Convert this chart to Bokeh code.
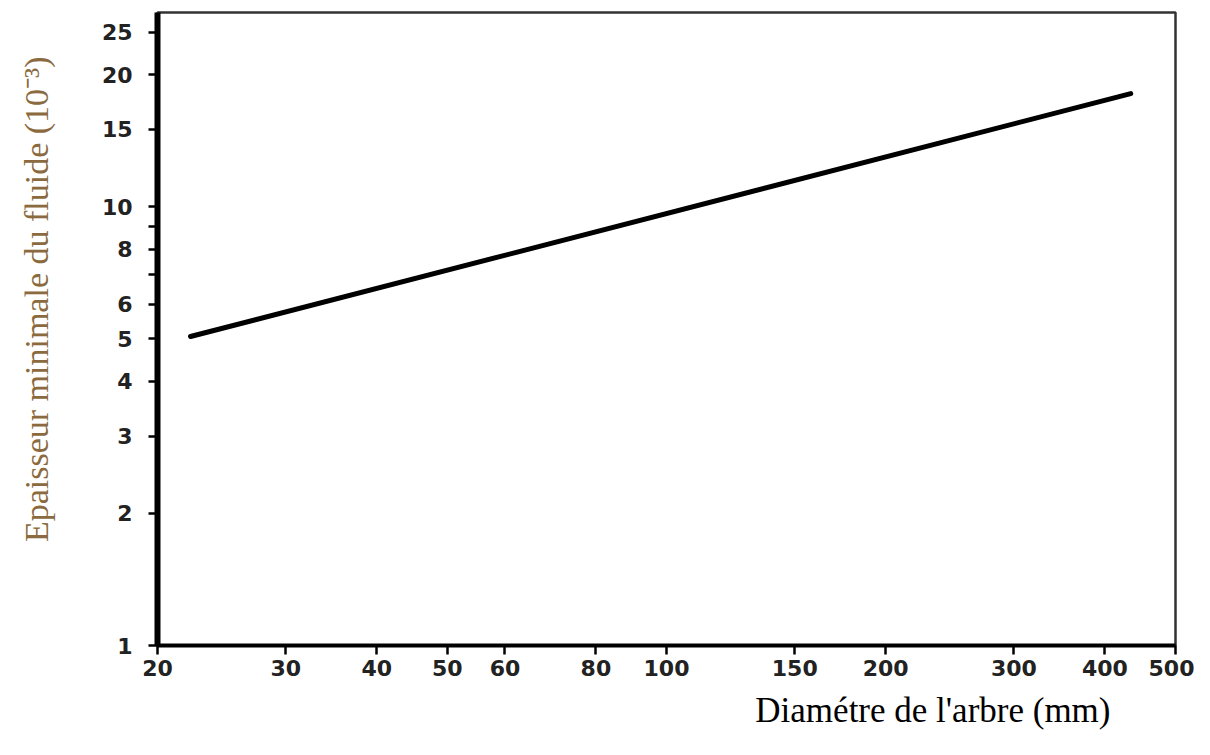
from bokeh.plotting import figure
from bokeh.models import FixedTicker, CustomJSTickFormatter, Title
from bokeh.embed import file_html
from bokeh.resources import INLINE

# data
diameter_mm = [22.2, 434.0]
thickness = [5.06, 18.1]

x_ticks = [20, 30, 40, 50, 60, 80, 100, 150, 200, 300, 400, 500]
y_ticks = [1, 2, 3, 4, 5, 6, 7, 8, 9, 10, 15, 20, 25]
y_labelled = [1, 2, 3, 4, 5, 6, 8, 10, 15, 20, 25]

x_title = "Diamétre de l'arbre (mm)"
y_title = "Epaisseur minimale du fluide (10\u207b\u00b3)"

p = figure(width=1194, height=739, x_axis_type="log", y_axis_type="log",
           x_range=(20, 500), y_range=(1, 27.7),
           output_backend="svg", toolbar_location=None,
           min_border_left=157, min_border_right=19,
           min_border_top=12, min_border_bottom=94)

p.grid.visible = False
p.outline_line_color = "#333333"
p.outline_line_width = 2.5
p.background_fill_color = "white"
p.border_fill_color = "white"

p.line(diameter_mm, thickness, line_color="black", line_width=5, line_cap="round")

p.xaxis.ticker = FixedTicker(ticks=x_ticks, minor_ticks=[])
p.yaxis.ticker = FixedTicker(ticks=y_ticks, minor_ticks=[])
p.yaxis.formatter = CustomJSTickFormatter(
    args=dict(show=y_labelled),
    code="return show.includes(tick) ? String(tick) : '';")
p.xaxis.formatter = CustomJSTickFormatter(code="return String(tick);")

for ax in (p.xaxis, p.yaxis):
    ax.axis_line_color = "black"
    ax.major_tick_line_color = "black"
    ax.major_tick_line_width = 2.5
    ax.major_tick_out = 9
    ax.major_tick_in = 0
    ax.minor_tick_line_color = None
    ax.major_label_text_font = "DejaVu Sans"
    ax.major_label_text_font_style = "bold"
    ax.major_label_text_font_size = "22px"
    ax.major_label_text_color = "#222222"

p.yaxis.axis_line_width = 6
p.xaxis.axis_line_width = 4
p.yaxis.major_label_standoff = 16
p.xaxis.major_label_standoff = 5

# leading no-break spaces nudge the centred label upwards, as in the original
p.yaxis.axis_label = "\u00a0" * 7 + y_title
p.yaxis.axis_label_text_font = "Liberation Serif"
p.yaxis.axis_label_text_font_style = "normal"
p.yaxis.axis_label_text_font_size = "34px"
p.yaxis.axis_label_text_color = "#8a6a3e"
p.yaxis.axis_label_standoff = 44

xt = Title(text=x_title, align="right", offset=65, standoff=20,
           text_font="Liberation Serif", text_font_style="normal",
           text_font_size="35px", text_color="black")
p.add_layout(xt, "below")

open("out.html", "w").write(file_html(p, INLINE))
